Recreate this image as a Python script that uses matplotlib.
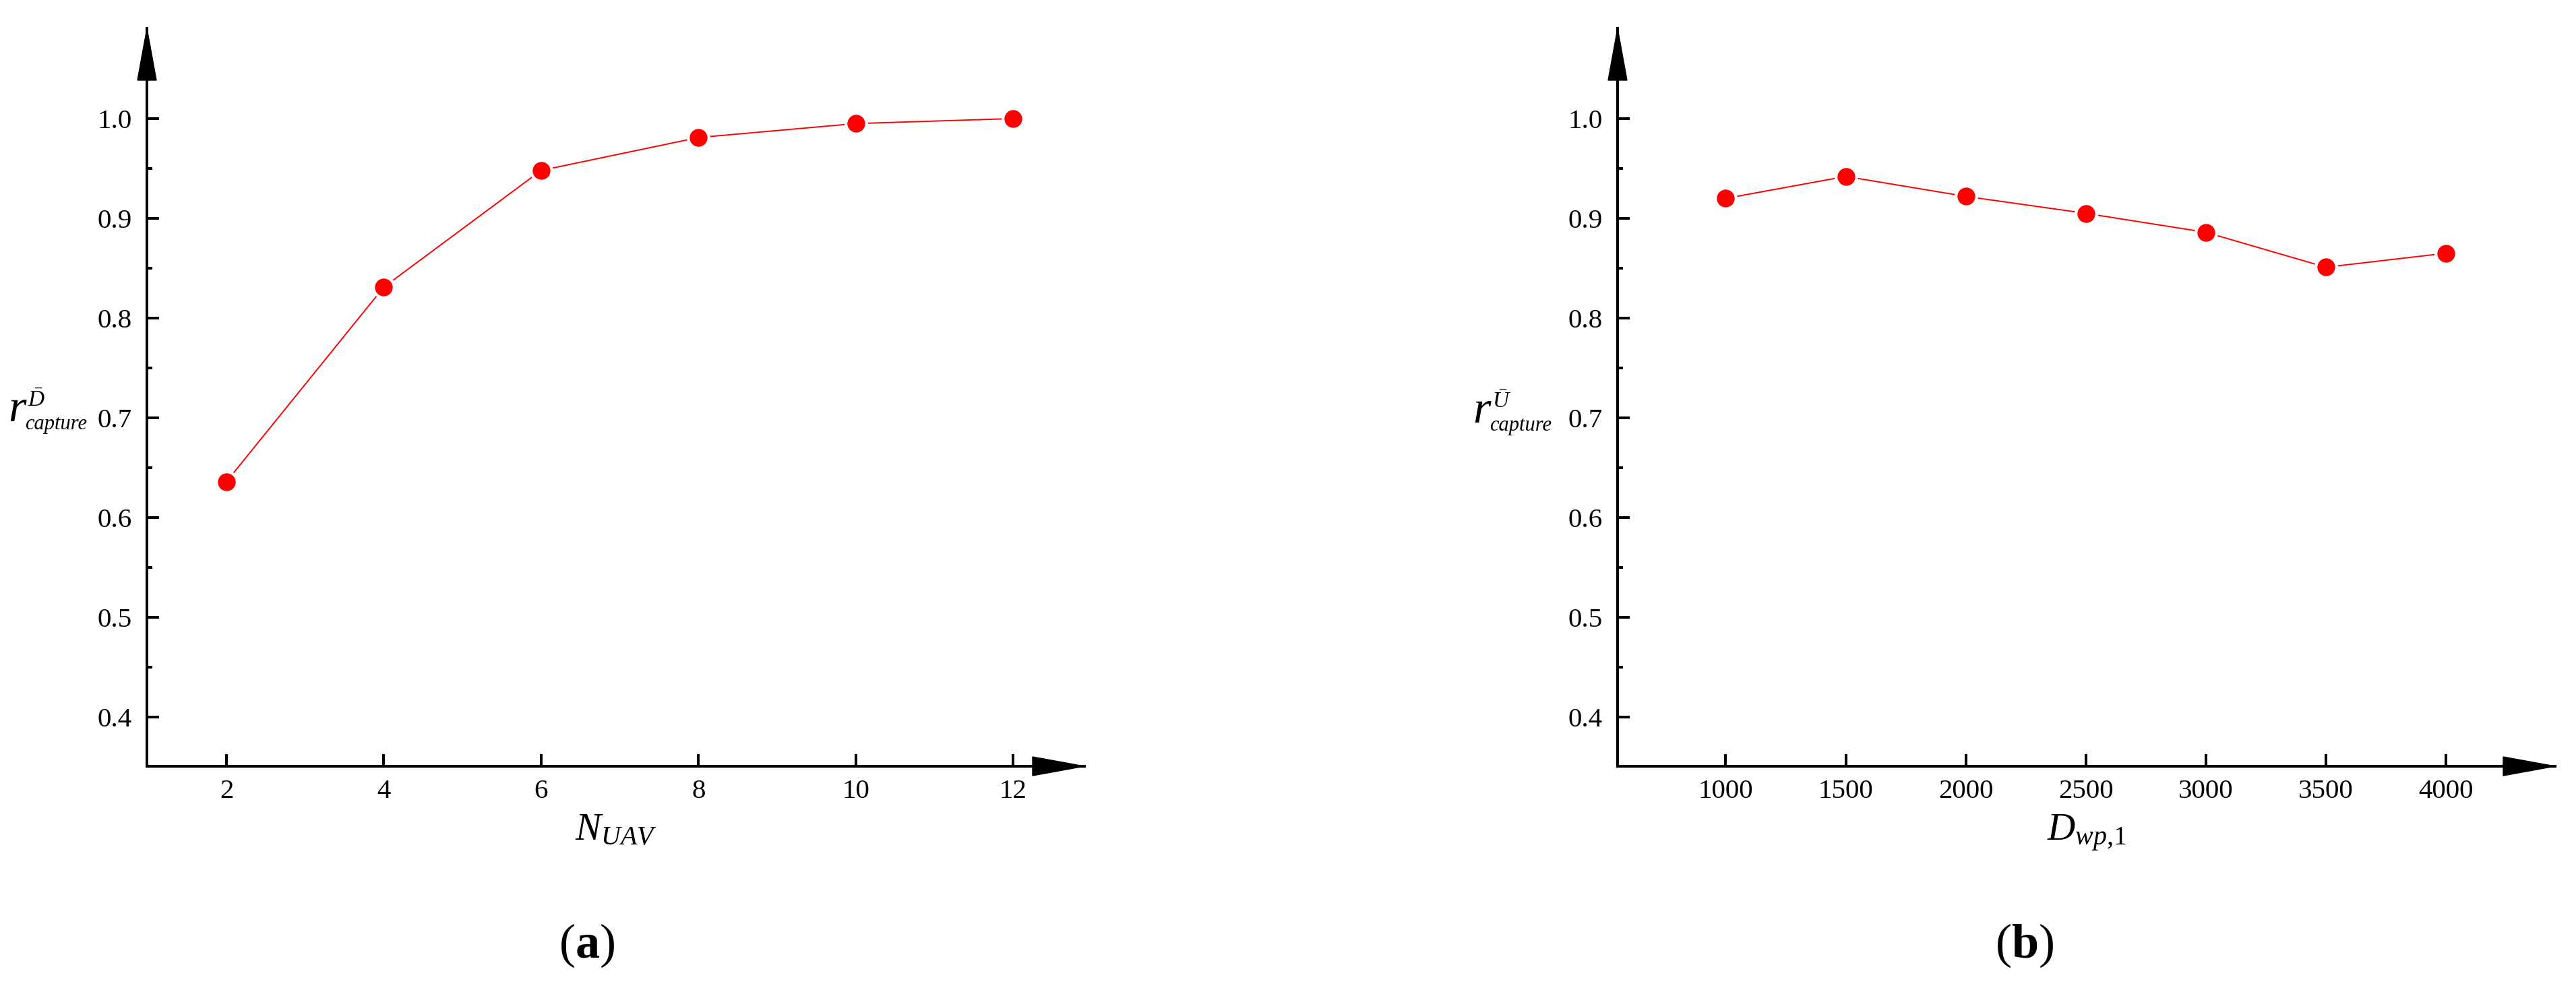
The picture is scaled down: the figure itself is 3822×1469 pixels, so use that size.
import numpy as np
import matplotlib
matplotlib.use("Agg")
import matplotlib.pyplot as plt
from matplotlib.patches import Polygon
from matplotlib.ticker import MultipleLocator, FormatStrFormatter

plt.rcParams['font.family'] = ['Liberation Serif', 'DejaVu Serif']
plt.rcParams['mathtext.fontset'] = 'custom'
plt.rcParams['mathtext.rm'] = 'Liberation Serif'
plt.rcParams['mathtext.it'] = 'Liberation Serif:italic'
plt.rcParams['mathtext.bf'] = 'Liberation Serif:bold'

# dane
n_uav = [2, 4, 6, 8, 10, 12]
rate_d = [0.636, 0.831, 0.948, 0.981, 0.995, 1.000]

d_wp = [1000, 1500, 2000, 2500, 3000, 3500, 4000]
rate_u = [0.920, 0.942, 0.922, 0.905, 0.886, 0.851, 0.865]

W, H = 3823, 1469
fig = plt.figure(figsize=(W / 100, H / 100), dpi=100)

# polozenie osi w pikselach: (os y, koniec strzalki osi x)
y_bot, y_top = 1137, 42
ax_a = fig.add_axes([218 / W, 1 - y_bot / H, (1609 - 218) / W, (y_bot - y_top) / H])
ax_b = fig.add_axes([2400 / W, 1 - y_bot / H, (3791 - 2400) / W, (y_bot - y_top) / H])


def px(x, y):
    # piksele obrazu -> wspolrzedne figury
    return x / W, 1 - y / H


def add_arrows(ax):
    pos = ax.get_position()
    w_px = pos.width * W
    h_px = pos.height * H
    hl, hw = 77, 14  # dlugosc i polowa szerokosci grotu w px
    xa = Polygon([(1, 0), (1 - hl / w_px, hw / h_px), (1 - hl / w_px, -hw / h_px)],
                 closed=True, transform=ax.transAxes, color='black', clip_on=False, zorder=5)
    ya = Polygon([(0, 1), (hw / w_px, 1 - hl / h_px), (-hw / w_px, 1 - hl / h_px)],
                 closed=True, transform=ax.transAxes, color='black', clip_on=False, zorder=5)
    ax.add_patch(xa)
    ax.add_patch(ya)


def style_axes(ax, xlabel):
    for s in ['top', 'right']:
        ax.spines[s].set_visible(False)
    for s in ['left', 'bottom']:
        ax.spines[s].set_linewidth(2.9)
    ax.set_ylim(0.3507, 1.0905)
    ax.yaxis.set_major_locator(MultipleLocator(0.1))
    ax.yaxis.set_minor_locator(MultipleLocator(0.05))
    ax.yaxis.set_major_formatter(FormatStrFormatter('%.1f'))
    ax.set_yticks([0.4, 0.5, 0.6, 0.7, 0.8, 0.9, 1.0])
    ax.tick_params(which='major', direction='in', length=13, width=2.9, labelsize=29.5)
    ax.tick_params(which='minor', direction='in', length=6, width=2.9)
    ax.tick_params(axis='x', which='both', top=False, pad=14)
    ax.tick_params(axis='y', which='both', right=False, pad=16)
    ax.set_xlabel(xlabel, fontsize=41)
    ax.xaxis.set_label_coords(0.5, -0.064)
    add_arrows(ax)


def ylabel_r(x0, base, sup):
    # r z indeksem dolnym "capture" i gornym (z kreska)
    fig.text(*px(x0, base), 'r', fontsize=49, style='italic', ha='left', va='baseline')
    fig.text(*px(x0 + 25, base + 12), 'capture', fontsize=22, style='italic',
             ha='left', va='baseline')
    fig.text(*px(x0 + 29, base - 22), sup, fontsize=24, ha='left', va='baseline')


ax_a.plot(n_uav, rate_d, color='#ff0000', lw=1.4, marker='o', ms=22,
          markerfacecolor='#ff0000', markeredgecolor='white', markeredgewidth=3)
ax_a.set_xlim(0.989, 12.908)
ax_a.set_xticks(n_uav)
style_axes(ax_a, r'$N_{UAV}$')
ylabel_r(12, 625, r'$\bar{D}$')

ax_b.plot(d_wp, rate_u, color='#ff0000', lw=1.4, marker='o', ms=22,
          markerfacecolor='#ff0000', markeredgecolor='white', markeredgewidth=3)
ax_b.set_xlim(549.4, 4455)
ax_b.set_xticks(d_wp)
style_axes(ax_b, r'$D_{wp{,}1}$')
ylabel_r(2185, 627, r'$\bar{U}$')

fig.text(*px(871, 1403), r'($\mathbf{a}$)', fontsize=52, ha='center', va='center')
fig.text(*px(3004, 1403), r'($\mathbf{b}$)', fontsize=52, ha='center', va='center')

fig.savefig('out.png', dpi=100, facecolor='white')
